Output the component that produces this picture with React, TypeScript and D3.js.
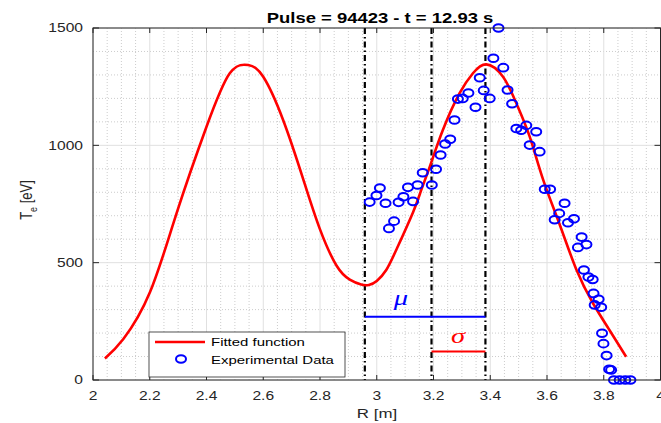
import React from 'react';
import * as d3 from 'd3';

// fitted curve
const fitR = [2.042, 2.107, 2.201, 2.295, 2.4, 2.482, 2.547, 2.6, 2.67, 2.741, 2.799, 2.858, 2.905, 2.945, 2.972, 3.0, 3.034, 3.069, 3.128, 3.157, 3.187, 3.233, 3.292, 3.339, 3.386, 3.445, 3.492, 3.539, 3.586, 3.644, 3.703, 3.762, 3.82, 3.879];
const fitTe = [92, 175, 375, 712, 1079, 1307, 1342, 1292, 1108, 855, 645, 488, 428, 407, 405, 422, 470, 555, 715, 810, 909, 1065, 1222, 1307, 1345, 1292, 1179, 1037, 855, 665, 472, 327, 213, 99];

// experimental points
const expR = [2.975, 2.999, 3.011, 3.031, 3.043, 3.061, 3.077, 3.094, 3.11, 3.128, 3.144, 3.162, 3.194, 3.209, 3.225, 3.241, 3.259, 3.274, 3.286, 3.303, 3.323, 3.348, 3.363, 3.377, 3.398, 3.411, 3.429, 3.446, 3.461, 3.477, 3.492, 3.509, 3.527, 3.539, 3.562, 3.574, 3.592, 3.611, 3.627, 3.643, 3.662, 3.674, 3.695, 3.709, 3.722, 3.73, 3.739, 3.746, 3.761, 3.764, 3.768, 3.782, 3.791, 3.794, 3.799, 3.81, 3.819, 3.826, 3.836, 3.856, 3.876, 3.894];
const expTe = [758, 786, 818, 753, 646, 677, 757, 781, 821, 761, 831, 883, 831, 898, 959, 1006, 1026, 1108, 1197, 1200, 1223, 1162, 1288, 1234, 1200, 1371, 1500, 1331, 1236, 1177, 1072, 1064, 1085, 1001, 1058, 973, 813, 813, 683, 710, 753, 670, 687, 565, 609, 469, 577, 439, 428, 369, 320, 344, 310, 199, 155, 104, 46, 43, 0, 0, 0, 0];

// dash-dot markers and the mu / sigma bars
const markerR = [2.958, 3.193, 3.383];
const muBar = { from: 2.958, to: 3.383, level: 270 };
const sigmaBar = { from: 3.193, to: 3.383, level: 121 };

const xTicks = [2, 2.2, 2.4, 2.6, 2.8, 3, 3.2, 3.4, 3.6, 3.8, 4];
const yTicks = [0, 500, 1000, 1500];

const W = 661;
const H = 423;
const SX = 1.3; // the picture is stretched sideways
const FONT = '"Liberation Sans", Arial, Helvetica, sans-serif';
const SERIF = '"Liberation Serif", "Times New Roman", serif';
const INK = '#262626';

const x = d3.scaleLinear().domain([2, 4]).range([93, 660.5]);
const y = d3.scaleLinear().domain([0, 1500]).range([380, 28]);

const StretchText = ({ tx, ty, anchor = 'middle', size = 12, weight = 'normal', fill = INK, family = FONT, style = 'normal', children }: any) => (
  <text
    transform={`translate(${tx},${ty}) scale(${SX},1)`}
    textAnchor={anchor}
    fontSize={size}
    fontWeight={weight}
    fontFamily={family}
    fontStyle={style}
    fill={fill}
  >
    {children}
  </text>
);

export default function App() {
  const [x0, x1] = x.range();
  const [y0, y1] = y.range();

  const minorX = d3.range(2, 4.0001, 0.05).filter(v => Math.abs(v * 5 - Math.round(v * 5)) > 1e-6);
  const minorY = d3.range(0, 1500.1, 100).filter(v => v % 500 !== 0);

  const line = d3.line<number>()
    .x((d, i) => x(fitR[i]))
    .y(d => y(d))
    .curve(d3.curveNatural);

  return (
    <svg width={W} height={H} style={{ position: 'absolute', left: 0, top: 0, background: '#fff' }}>
      {/* minor grid */}
      {minorX.map(v => (
        <line key={'mx' + v} x1={x(v)} x2={x(v)} y1={y1} y2={y0} stroke="#cccccc" strokeWidth={1} strokeDasharray="1,2" />
      ))}
      {minorY.map(v => (
        <line key={'my' + v} x1={x0} x2={x1} y1={y(v)} y2={y(v)} stroke="#cccccc" strokeWidth={1} strokeDasharray="1,2" />
      ))}
      {/* major grid */}
      {xTicks.map(v => (
        <line key={'gx' + v} x1={x(v)} x2={x(v)} y1={y1} y2={y0} stroke="#e0e0e0" strokeWidth={1} />
      ))}
      {yTicks.map(v => (
        <line key={'gy' + v} x1={x0} x2={x1} y1={y(v)} y2={y(v)} stroke="#e0e0e0" strokeWidth={1} />
      ))}

      {/* dash-dot verticals */}
      {markerR.map(v => (
        <line key={'v' + v} x1={x(v)} x2={x(v)} y1={y1} y2={y0} stroke="#000" strokeWidth={2.2} strokeDasharray="6,3,1.5,3" />
      ))}

      {/* fitted function */}
      <path d={line(fitTe) || ''} fill="none" stroke="#ff0000" strokeWidth={2.6} />

      {/* experimental data */}
      {expTe.map((v, i) => (
        <ellipse key={'p' + i} cx={x(expR[i])} cy={y(v)} rx={5} ry={3.8} fill="none" stroke="#0000ff" strokeWidth={2} />
      ))}

      {/* mu and sigma bars */}
      <line x1={x(muBar.from)} x2={x(muBar.to)} y1={y(muBar.level)} y2={y(muBar.level)} stroke="#0000ff" strokeWidth={2} />
      <line x1={x(sigmaBar.from)} x2={x(sigmaBar.to)} y1={y(sigmaBar.level)} y2={y(sigmaBar.level)} stroke="#ff0000" strokeWidth={2} />
      <StretchText tx={401} ty={305} size={22} fill="#0000ff" family={SERIF} style="italic">μ</StretchText>
      <StretchText tx={458} ty={343} size={22} fill="#ff0000" family={SERIF} style="italic">σ</StretchText>

      {/* axes box and ticks */}
      <rect x={x0} y={y1} width={x1 - x0} height={y0 - y1} fill="none" stroke={INK} strokeWidth={1} />
      {xTicks.map(v => (
        <g key={'tx' + v}>
          <line x1={x(v)} x2={x(v)} y1={y0} y2={y0 - 5} stroke={INK} />
          <line x1={x(v)} x2={x(v)} y1={y1} y2={y1 + 5} stroke={INK} />
          <StretchText tx={x(v)} ty={400}>{String(v)}</StretchText>
        </g>
      ))}
      {yTicks.map(v => (
        <g key={'ty' + v}>
          <line x1={x0} x2={x0 + 6} y1={y(v)} y2={y(v)} stroke={INK} />
          <line x1={x1} x2={x1 - 6} y1={y(v)} y2={y(v)} stroke={INK} />
          <StretchText tx={83} ty={y(v) + 4.3} anchor="end">{String(v)}</StretchText>
        </g>
      ))}

      {/* labels */}
      <StretchText tx={380} ty={23} size={14.2} weight="bold" fill="#000">Pulse = 94423 - t = 12.93 s</StretchText>
      <StretchText tx={377} ty={418} size={13}>R [m]</StretchText>
      <text transform={`translate(32,200) scale(${SX},1) rotate(-90)`} textAnchor="middle" fontSize={13} fontFamily={FONT} fill={INK}>
        T<tspan fontSize={9} dy={4}>e</tspan><tspan dy={-4}> [eV]</tspan>
      </text>

      {/* legend */}
      <rect x={149} y={332} width={196} height={45} fill="#fff" stroke={INK} strokeWidth={0.8} />
      <line x1={155} x2={205} y1={342} y2={342} stroke="#ff0000" strokeWidth={2.6} />
      <ellipse cx={181} cy={359} rx={5} ry={3.8} fill="none" stroke="#0000ff" strokeWidth={2} />
      <StretchText tx={211} ty={346} anchor="start" size={11.5} fill="#000">Fitted function</StretchText>
      <StretchText tx={211} ty={363.5} anchor="start" size={11.5} fill="#000">Experimental Data</StretchText>
    </svg>
  );
}
